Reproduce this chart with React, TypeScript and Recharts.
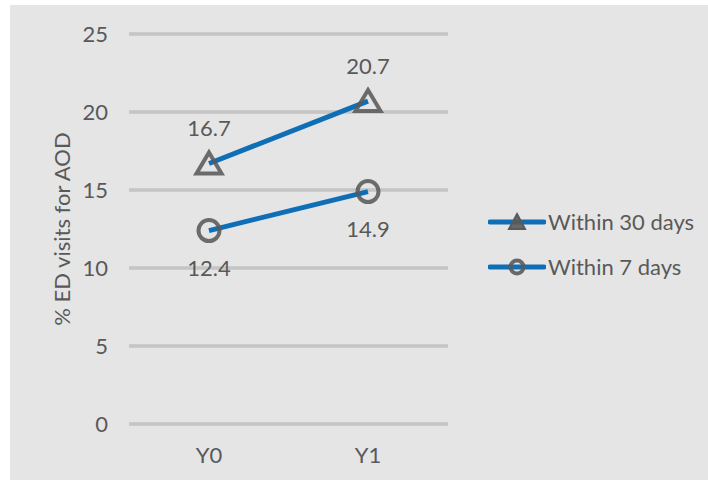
import React from "react";
import { LineChart, Line, XAxis, YAxis, CartesianGrid, LabelList } from "recharts";

const categories = ["Y0", "Y1"];
const within30 = [16.7, 20.7];
const within7 = [12.4, 14.9];
const seriesNames = ["Within 30 days", "Within 7 days"];
const yTicks = [0, 5, 10, 15, 20, 25];
const yTitle = "% ED visits for AOD";

const data = categories.map((c, i) => ({ name: c, d30: within30[i], d7: within7[i] }));

const TEXT = "#595959";
const BLUE = "#0f6fb6";
const MARK = "#5a5a5a";
const FONT = "Lato, 'Open Sans', sans-serif";

const TriangleDot = (props: any) => {
  const { cx, cy, index } = props;
  if (cx == null || cy == null) return null;
  return (
    <path
      key={`t-${index}`}
      d={`M${cx},${cy - 11} L${cx + 12.5},${cy + 10} L${cx - 12.5},${cy + 10} Z`}
      fill="none"
      stroke={MARK}
      strokeOpacity={0.88}
      strokeWidth={4}
    />
  );
};

const CircleDot = (props: any) => {
  const { cx, cy, index } = props;
  if (cx == null || cy == null) return null;
  return (
    <circle
      key={`c-${index}`}
      cx={cx}
      cy={cy}
      r={10.5}
      fill="none"
      stroke={MARK}
      strokeOpacity={0.88}
      strokeWidth={4}
    />
  );
};

const YTitle = (props: any) => {
  const { viewBox } = props;
  const x = viewBox.x + 51;
  const y = viewBox.y + viewBox.height / 2;
  return (
    <text
      x={x}
      y={y}
      transform={`rotate(-90, ${x}, ${y})`}
      textAnchor="middle"
      dominantBaseline="central"
      fill={TEXT}
      fontSize={22}
      fontFamily={FONT}
    >
      {yTitle}
    </text>
  );
};

function LegendIcon({ kind }: { kind: "tri" | "circ" }) {
  return (
    <svg width={58} height={24} style={{ display: "block" }}>
      <line x1={2} y1={12} x2={56} y2={12} stroke={BLUE} strokeWidth={5} strokeLinecap="round" />
      {kind === "tri" ? (
        <path d="M29,4 L37,19 L21,19 Z" fill={MARK} fillOpacity={0.9} stroke={MARK} strokeWidth={2} />
      ) : (
        <circle cx={29} cy={12} r={6.5} fill="none" stroke={MARK} strokeOpacity={0.9} strokeWidth={4} />
      )}
    </svg>
  );
}

export default function App() {
  return (
    <div
      style={{
        position: "absolute",
        left: 10,
        top: 5,
        width: 698,
        height: 475,
        background: "#e5e5e5",
        fontFamily: FONT,
      }}
    >
      <LineChart width={698} height={475} data={data} margin={{ top: 29, right: 260, bottom: 26, left: 0 }}>
        <CartesianGrid vertical={false} stroke="#b2b2b2" strokeWidth={3} />
        <CartesianGrid vertical={false} stroke="#d8d8d8" strokeWidth={1} />
        <XAxis
          dataKey="name"
          height={30}
          padding={{ left: 80, right: 80 }}
          axisLine={false}
          tickLine={false}
          tickSize={0}
          tickMargin={23}
          tick={{ fill: TEXT, fontSize: 22, fontFamily: FONT }}
        />
        <YAxis
          domain={[0, 25]}
          ticks={yTicks}
          width={119}
          axisLine={false}
          tickLine={false}
          tickSize={0}
          tickMargin={21}
          tick={{ fill: TEXT, fontSize: 22, fontFamily: FONT }}
          label={<YTitle />}
        />
        <Line
          dataKey="d30"
          name={seriesNames[0]}
          stroke={BLUE}
          strokeWidth={5}
          dot={<TriangleDot />}
          isAnimationActive={false}
        >
          <LabelList dataKey="d30" position="top" offset={27} fill={TEXT} fontSize={22} fontFamily={FONT} />
        </Line>
        <Line
          dataKey="d7"
          name={seriesNames[1]}
          stroke={BLUE}
          strokeWidth={5}
          dot={<CircleDot />}
          isAnimationActive={false}
        >
          <LabelList dataKey="d7" position="bottom" offset={30} fill={TEXT} fontSize={22} fontFamily={FONT} />
        </Line>
      </LineChart>
      <div style={{ position: "absolute", left: 478, top: 205 }}>
        {seriesNames.map((n, i) => (
          <div key={n} style={{ display: "flex", alignItems: "center", height: 24, marginBottom: 21 }}>
            <LegendIcon kind={i === 0 ? "tri" : "circ"} />
            <span style={{ color: TEXT, fontSize: 22, lineHeight: "24px", marginLeft: 2, whiteSpace: "nowrap" }}>{n}</span>
          </div>
        ))}
      </div>
    </div>
  );
}
